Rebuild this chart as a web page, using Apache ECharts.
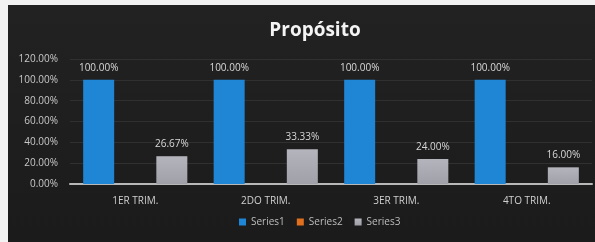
<!DOCTYPE html>
<html><head><meta charset="utf-8">
<script src="https://cdn.jsdelivr.net/npm/echarts@6/dist/echarts.min.js"></script>
<style>html,body{margin:0;padding:0;background:#f4f4f4;}#c{width:595px;height:242px;}</style>
</head><body><div id="c"></div>
<script>
const categories = ['1ER TRIM.', '2DO TRIM.', '3ER TRIM.', '4TO TRIM.'];
const series1 = [100, 100, 100, 100];
const series2 = [0, 0, 0, 0];
const series3 = [26.67, 33.33, 24, 16];
const seriesNames = ['Series1', 'Series2', 'Series3'];

const chart = echarts.init(document.getElementById('c'), null, {renderer: 'canvas'});
const lbl = {show: true, position: 'top', distance: 7, color: '#d8d8d8', fontSize: 10, fontFamily: 'Open Sans',
  formatter: p => p.value.toFixed(2) + '%'};
chart.setOption({
  backgroundColor: '#f2f2f2',
  animation: false,
  graphic: [
    {type: 'rect', z: -10, shape: {x: 8, y: 5, width: 587, height: 237},
     style: {fill: new echarts.graphic.LinearGradient(0, 0, 0, 1, [{offset: 0, color: '#232222'}, {offset: 1, color: '#1c1b1b'}])}}
  ],
  title: {text: 'Propósito', left: 310, top: 16, textAlign: 'center',
    textStyle: {color: '#f4f4f4', fontSize: 19, fontWeight: 'bold', fontFamily: 'Open Sans'}},
  legend: {bottom: 10, left: 234, itemWidth: 7, itemHeight: 7, itemGap: 12,
    textStyle: {color: '#bdbdbd', fontSize: 10, fontFamily: 'Open Sans'}, icon: 'rect', data: seriesNames},
  grid: {left: 70, right: 3, top: 59, bottom: 58},
  xAxis: {type: 'category', data: categories,
    axisLine: {lineStyle: {color: '#b8b8b8', width: 2}}, axisTick: {show: false},
    axisLabel: {color: '#d0d0d0', fontSize: 10, margin: 12, fontFamily: 'Open Sans'}},
  yAxis: {type: 'value', min: 0, max: 120, interval: 20,
    axisLine: {show: false}, axisTick: {show: false},
    splitLine: {lineStyle: {color: '#303030', width: 1}},
    axisLabel: {color: '#c8c8c8', fontSize: 10, margin: 12, fontFamily: 'Open Sans',
      formatter: v => v.toFixed(2) + '%'}},
  series: [
    {name: seriesNames[0], type: 'bar', data: series1, barWidth: 31, barGap: '18%',
     itemStyle: {color: '#1f86d6'}, label: lbl},
    {name: seriesNames[1], type: 'bar', data: series2, barWidth: 31, barGap: '18%',
     itemStyle: {color: '#e0701e'}, label: {show: false}},
    {name: seriesNames[2], type: 'bar', data: series3, barWidth: 31, barGap: '18%',
     itemStyle: {color: new echarts.graphic.LinearGradient(0, 0, 0, 1, [{offset: 0, color: '#b4b4bc'}, {offset: 1, color: '#a0a0a8'}])}, label: lbl}
  ]
});
</script></body></html>
